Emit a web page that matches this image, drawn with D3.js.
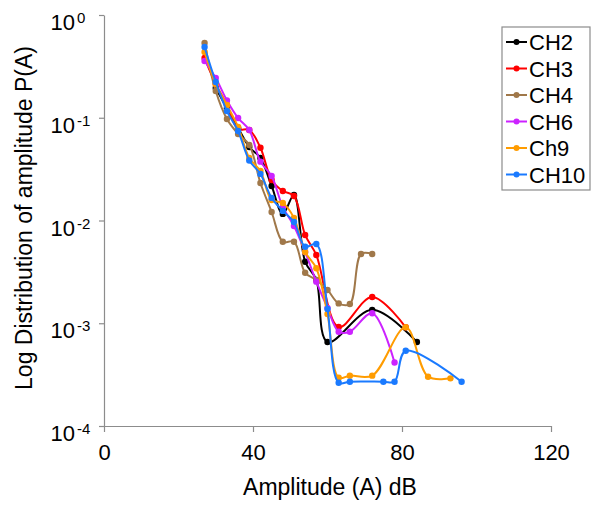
<!DOCTYPE html>
<html>
<head>
<meta charset="utf-8">
<script src="https://cdn.jsdelivr.net/npm/d3@7"></script>
<style>
  body { margin: 0; background: #fff; }
  svg { font-family: "Liberation Sans", Arial, sans-serif; }
</style>
</head>
<body>
<div id="vis"></div>
<script>
const W = 593, H = 511;

// Axis ticks
const xTicks = [0, 40, 80, 120];
const yTicks = [1, 0.1, 0.01, 0.001, 0.0001];
const yExponents = ["0", "-1", "-2", "-3", "-4"];

// Series names + colours (legend order)
const seriesNames = ["CH2", "CH3", "CH4", "CH6", "Ch9", "CH10"];
const seriesColors = ["#000000", "#ff0000", "#a0784a", "#cc22ff", "#ff9c00", "#1a7aff"];

// Amplitude (dB) and P(A)
const ampCH2 = [30, 33, 36, 39, 42, 45, 48, 51, 54, 57, 60, 72, 84];
const probCH2 = [0.195, 0.124, 0.0795, 0.0519, 0.0406, 0.0217, 0.0116, 0.0177, 0.00397, 0.00264, 0.000657, 0.00135, 0.000657];

const ampCH3 = [27, 30, 33, 36, 39, 42, 45, 48, 51, 54, 57, 63, 72, 81];
const probCH3 = [0.381, 0.213, 0.133, 0.0777, 0.076, 0.0511, 0.0248, 0.0194, 0.0173, 0.00723, 0.00461, 0.000919, 0.0018, 0.000913];

const ampCH4 = [27, 30, 33, 36, 39, 42, 45, 48, 51, 54, 57, 60, 63, 66, 69, 72];
const probCH4 = [0.534, 0.182, 0.0972, 0.0695, 0.0543, 0.0232, 0.0121, 0.00622, 0.00622, 0.0031, 0.00264, 0.00211, 0.00156, 0.00154, 0.00472, 0.00472];

const ampCH6 = [27, 30, 33, 36, 39, 42, 45, 48, 51, 54, 57, 60, 63, 66, 72, 78];
const probCH6 = [0.357, 0.2436, 0.1472, 0.0994, 0.076, 0.0374, 0.0271, 0.0135, 0.00884, 0.00494, 0.00254, 0.00141, 0.000827, 0.000827, 0.00125, 0.000415];

const ampCh9 = [27, 30, 33, 36, 39, 42, 45, 48, 51, 54, 57, 60, 63, 66, 72, 81, 87, 93];
const probCh9 = [0.436, 0.213, 0.133, 0.0813, 0.0406, 0.0303, 0.0158, 0.0148, 0.0106, 0.00494, 0.00343, 0.00123, 0.000295, 0.000309, 0.000309, 0.000913, 0.000302, 0.000291];

const ampCH10 = [27, 30, 33, 36, 39, 42, 45, 48, 51, 54, 57, 60, 63, 66, 75, 78, 81, 96];
const probCH10 = [0.488, 0.2228, 0.1163, 0.0743, 0.0384, 0.0284, 0.0166, 0.0124, 0.00967, 0.00556, 0.0059, 0.00138, 0.000264, 0.00027, 0.00027, 0.00027, 0.00054, 0.00027];

const ampAll = [ampCH2, ampCH3, ampCH4, ampCH6, ampCh9, ampCH10];
const probAll = [probCH2, probCH3, probCH4, probCH6, probCh9, probCH10];

const series = seriesNames.map((name, i) => ({
  name,
  color: seriesColors[i],
  points: ampAll[i].map((a, j) => ({ a, p: probAll[i][j] }))
}));

const svg = d3.select("#vis").append("svg")
  .attr("width", W)
  .attr("height", H);

// Scales
const x = d3.scaleLinear().domain([0, 120]).range([104, 551]);
const y = d3.scaleLog().domain([1e-4, 1]).range([426, 15]);

const axisColor = "#8c8c8c";

// x axis
const xAxis = svg.append("g")
  .attr("transform", `translate(0,${y(1e-4)})`)
  .call(d3.axisBottom(x).tickValues(xTicks).tickSize(6).tickSizeOuter(0).tickPadding(12));
xAxis.select(".domain").attr("stroke", axisColor).attr("stroke-width", 1.2);
xAxis.selectAll(".tick line").attr("stroke", axisColor).attr("stroke-width", 1.2);
xAxis.selectAll(".tick text")
  .attr("fill", "#000")
  .style("font-size", "22px");

// y axis
const yAxis = svg.append("g")
  .attr("transform", `translate(${x(0)},0)`)
  .call(d3.axisLeft(y).tickValues(yTicks).tickSize(5).tickSizeOuter(0).tickFormat(""));
yAxis.select(".domain").attr("stroke", axisColor).attr("stroke-width", 1.2);
yAxis.selectAll(".tick line").attr("stroke", axisColor).attr("stroke-width", 1.2);

// y tick labels as 10 with superscript exponent
const yLab = svg.append("g");
yTicks.forEach((v, i) => {
  const ty = y(v);
  yLab.append("text")
    .attr("x", 75)
    .attr("y", ty + 15)
    .attr("text-anchor", "end")
    .style("font-size", "22px")
    .text("10");
  yLab.append("text")
    .attr("x", 77)
    .attr("y", ty + 8)
    .style("font-size", "15px")
    .text(yExponents[i]);
});

// axis titles
svg.append("text")
  .attr("x", 330)
  .attr("y", 495)
  .attr("text-anchor", "middle")
  .style("font-size", "23px")
  .text("Amplitude (A) dB");

svg.append("text")
  .attr("transform", "translate(32,218) rotate(-90)")
  .attr("text-anchor", "middle")
  .style("font-size", "23px")
  .text("Log Distribution of amplitude P(A)");

// smoothed lines (like the spreadsheet's smoothed scatter)
const line = d3.line()
  .x(d => x(d.a))
  .y(d => y(d.p))
  .curve(d3.curveCatmullRom.alpha(0.5));

const plot = svg.append("g");
series.forEach(s => {
  const g = plot.append("g");
  g.append("path")
    .datum(s.points)
    .attr("fill", "none")
    .attr("stroke", s.color)
    .attr("stroke-width", 2)
    .attr("d", line);
  g.selectAll("circle")
    .data(s.points)
    .join("circle")
    .attr("cx", d => x(d.a))
    .attr("cy", d => y(d.p))
    .attr("r", 3.2)
    .attr("fill", s.color);
});

// legend
const legend = svg.append("g").attr("transform", "translate(502,27)");
legend.append("rect")
  .attr("width", 88)
  .attr("height", 163)
  .attr("fill", "#fff")
  .attr("stroke", "#8c8c8c")
  .attr("stroke-width", 1.2);

series.forEach((s, i) => {
  const ly = 15 + i * 26.5;
  const row = legend.append("g").attr("transform", `translate(0,${ly})`);
  row.append("line")
    .attr("x1", 4).attr("x2", 25)
    .attr("stroke", s.color)
    .attr("stroke-width", 2);
  row.append("circle")
    .attr("cx", 14.5)
    .attr("r", 3)
    .attr("fill", s.color);
  row.append("text")
    .attr("x", 27)
    .attr("y", 8)
    .style("font-size", "22px")
    .text(s.name);
});
</script>
</body>
</html>
